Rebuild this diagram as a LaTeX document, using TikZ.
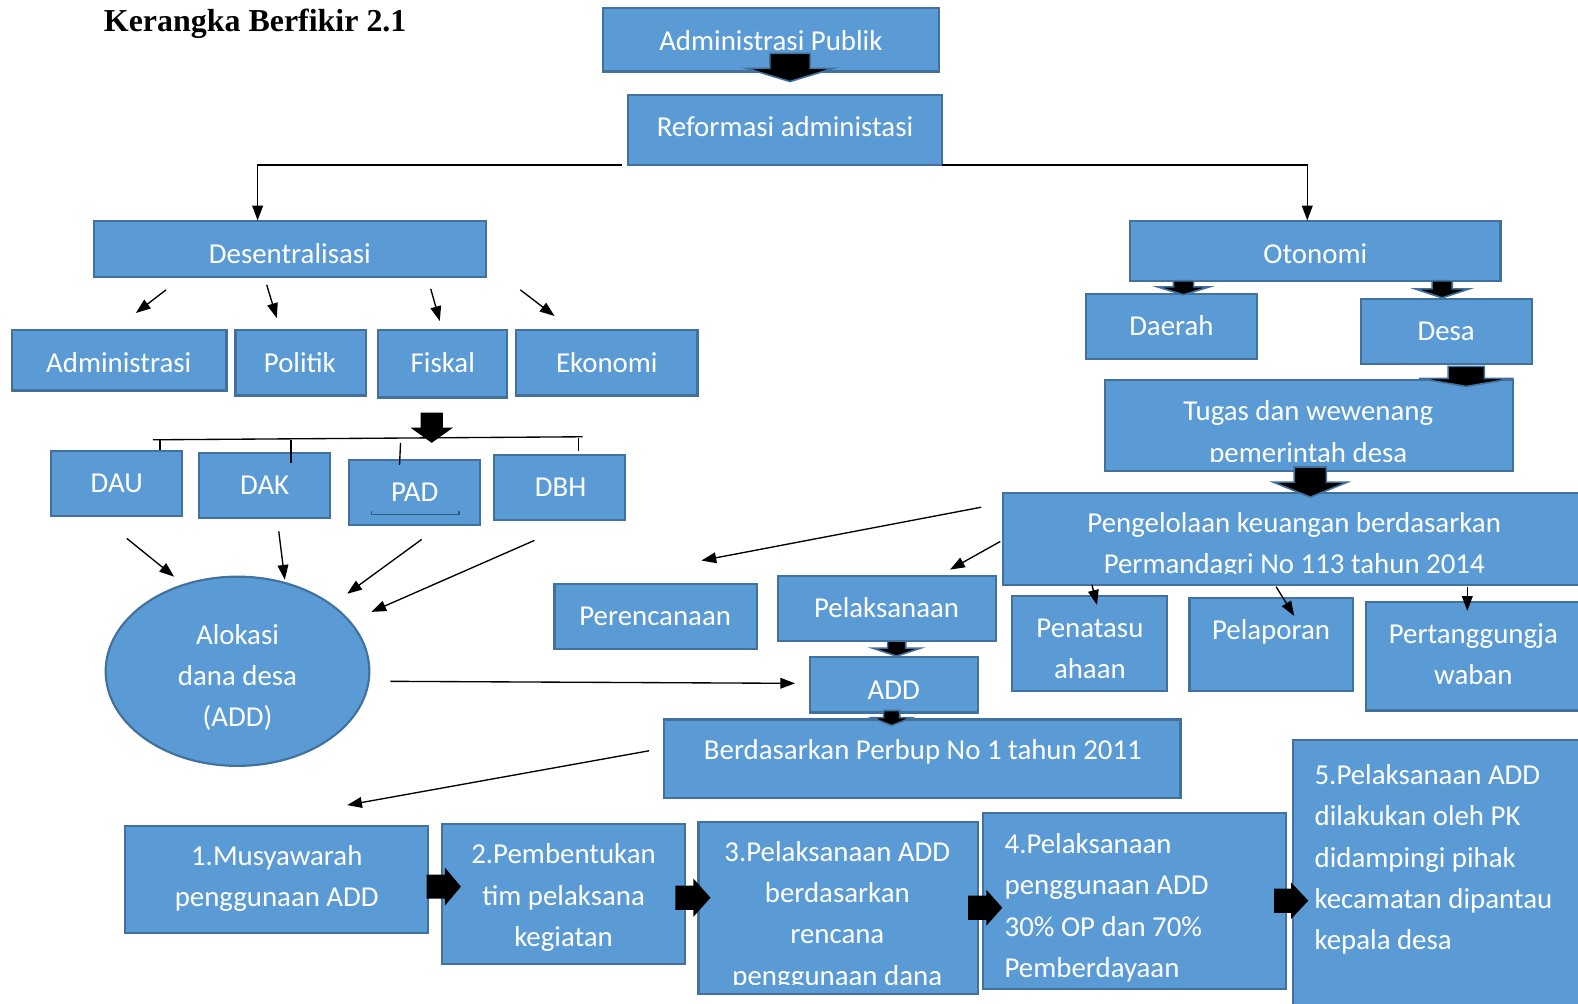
\documentclass[tikz,border=0pt]{standalone}
\usepackage{fontspec}
\setmainfont{Carlito}
\newfontfamily\titlefont{Liberation Serif}
\usetikzlibrary{arrows.meta,fit,shapes.geometric}
\definecolor{bfill}{RGB}{91,155,213}
\definecolor{bline}{RGB}{65,113,156}
\tikzset{
 box/.style={draw=bline, fill=bfill, line width=1.6pt, inner sep=0pt},
 txt/.style={text=white, font=\fontsize{21.5}{30.75}\selectfont, align=center, inner sep=0pt, yshift=-1.5pt},
 txtl/.style={txt, align=left},
 thinarr/.style={draw=black, line width=1pt, -{Triangle[length=11pt,width=8pt]}},
 rule/.style={draw=black, line width=1pt},
 barrow/.style={fill=black, draw=bline, line width=1.2pt},
 barrowk/.style={fill=black, draw=none},
}
\newcommand\bdown[7]{%
 \filldraw[#1] ({#2-#6},#3) -- ({#2+#6},#3) -- ({#2+#6},#4) -- ({#2+#7},#4) -- (#2,#5) -- ({#2-#7},#4) -- ({#2-#6},#4) -- cycle;}
\newcommand\bright[7]{%
 \filldraw[#1] (#3,{#2-#6}) -- (#4,{#2-#6}) -- (#4,{#2-#7}) -- (#5,#2) -- (#4,{#2+#7}) -- (#4,{#2+#6}) -- (#3,{#2+#6}) -- cycle;}
\begin{document}
\begin{tikzpicture}[x=0.75pt,y=-0.75pt]
\path[use as bounding box, fill=white] (0,0) rectangle (1568,997);

\node[anchor=base west, inner sep=0pt, font=\titlefont\bfseries\fontsize{23.8}{28}\selectfont] (title) at (103,31.5) {Kerangka Berfikir 2.1};

% top
\node[box, fit={(599,8)(933,71)}] (ap) {};
\node[txt] (tap) at (766,38) {Administrasi Publik};
\node[box, fit={(624,94)(936,164)}] (ra) {};
\node[txt] (tra) at (780,124) {Reformasi administasi};
\bdown{barrow}{785}{53}{68}{81}{20}{43}

\node[box, fit={(93,220)(483,275)}] (des) {};
\node[txt] (tdes) at (288,250) {Desentralisasi};
\node[box, fit={(1123,220)(1491,279)}] (oto) {};
\node[txt] (toto) at (1307,250) {Otonomi};

\coordinate (raL) at (618,164);
\coordinate (desin) at (256,219);
\coordinate (raR) at (936,164);
\coordinate (otoin) at (1299,219);
\draw[thinarr] (raL) -| (desin);
\draw[thinarr] (raR) -| (otoin);

% second row left
\node[box, fit={(12,328)(225,388)}] (adm) {};
\node[txt] (tadm) at (118,358) {Administrasi};
\node[box, fit={(234,328)(364,393)}] (pol) {};
\node[txt] (tpol) at (298,358) {Politik};
\node[box, fit={(376,328)(504,395)}] (fis) {};
\node[txt] (tfis) at (440,358) {Fiskal};
\node[box, fit={(513,328)(693,393)}] (eko) {};
\node[txt] (teko) at (603,358) {Ekonomi};

\coordinate (d1s) at (165,288); \coordinate (d1e) at (135,311);
\coordinate (d2s) at (265,283); \coordinate (d2e) at (275,316);
\coordinate (d3s) at (428,287); \coordinate (d3e) at (437,319);
\coordinate (d4s) at (517,288); \coordinate (d4e) at (551,314);
\draw[thinarr] (d1s) -- (d1e);
\draw[thinarr] (d2s) -- (d2e);
\draw[thinarr] (d3s) -- (d3e);
\draw[thinarr] (d4s) -- (d4e);

\bdown{barrowk}{429}{410}{425}{440}{11}{21}
\coordinate (hl) at (152,437); \coordinate (hr) at (579,434);
\draw[rule] (hl) -- (hr);

% third row
\node[box, fit={(51,448)(181,513)}] (dau) {};
\node[txt] (tdau) at (116,478) {DAU};
\node[box, fit={(198,450)(328,515)}] (dak) {};
\node[txt] (tdak) at (263,480) {DAK};
\node[box, fit={(347,457)(477,522)}] (pad) {};
\node[txt] (tpad) at (412,487) {PAD};
\node[box, fit={(491,452)(621,517)}] (dbh) {};
\node[txt] (tdbh) at (557,482) {DBH};
\draw[draw=bline!80!black, line width=1pt] (369,508) -- (369,511) -- (456,511) -- (456,508);

\draw[rule] (159,437) -- (dau.north -| 159,0);
\draw[rule] (289,437) -- (289,460);
\draw[rule] (398,440) -- (397,462);
\draw[rule] (575,435) -- (575,448);

% ellipse
\node[box, ellipse, minimum width=196.5pt, minimum height=141pt] (ell) at (236,667) {};
\node[txt] (tell) at (236,671) {Alokasi\\dana desa\\(ADD)};

\coordinate (e1s) at (126,535); \coordinate (e1e) at (173,573);
\coordinate (e2s) at (277,528); \coordinate (e2e) at (283,576);
\coordinate (e3s) at (419,536); \coordinate (e3e) at (345,590);
\coordinate (e4s) at (531,537); \coordinate (e4e) at (369,608);
\draw[thinarr] (e1s) -- (e1e);
\draw[thinarr] (e2s) -- (e2e);
\draw[thinarr] (e3s) -- (e3e);
\draw[thinarr] (e4s) -- (e4e);

% right side
\node[box, fit={(1079,292)(1249,357)}] (dae) {};
\node[txt] (tdae) at (1164,322) {Daerah};
\node[box, fit={(1352,297)(1522,362)}] (desa) {};
\node[txt] (tdesa) at (1437,327) {Desa};
\bdown{barrow}{1176}{279}{285}{293}{10}{26}
\bdown{barrow}{1433}{279}{287}{296}{10}{27}

\node[box, fit={(1098,378)(1503,468)}] (tug) {};
\begin{scope}
\clip (1098,378) rectangle (1503,459);
\node[txt] (ttug) at (1300,429) {Tugas dan wewenang\\pemerintah desa};
\end{scope}
\bdown{barrow}{1457}{364}{376}{384}{18}{47}

\node[box, fit={(997,490)(1580,581)}] (peng) {};
\begin{scope}
\clip (997,490) rectangle (1580,570);
\node[txt] (tpeng) at (1286,540) {Pengelolaan keuangan berdasarkan\\Permandagri No 113 tahun 2014};
\end{scope}
\bdown{barrow}{1302}{464}{479}{494}{16}{37}

\node[box, fit={(551,580)(752,645)}] (per) {};
\node[txt] (tper) at (651,610) {Perencanaan};
\node[box, fit={(773,572)(990,637)}] (pel) {};
\node[txt] (tpel) at (881,602) {Pelaksanaan};
\node[box, fit={(805,653)(972,708)}] (addb) {};
\node[txt] (tadd) at (888,684) {ADD};
\node[box, fit={(660,715)(1173,793)}] (berd) {};
\node[txt] (tberd) at (917,745) {Berdasarkan Perbup No 1 tahun 2011};
\bdown{barrow}{891}{637}{644}{652}{9}{24}
\bdown{barrow}{886}{706}{713}{721}{8}{20}

\node[box, fit={(1006,592)(1160,687)}] (pena) {};
\node[txt] (tpena) at (1083,643) {Penatasu\\ahaan};
\node[box, fit={(1182,594)(1344,687)}] (pela) {};
\node[txt] (tpela) at (1263,626) {Pelaporan};
\node[box, fit={(1357,598)(1580,706)}] (pert) {};
\node[txt] (tpert) at (1464,648) {Pertanggungja\\waban};

\coordinate (p1s) at (975,504); \coordinate (p1e) at (697,557);
\coordinate (p2s) at (994,538); \coordinate (p2e) at (944,566);
\coordinate (p3s) at (1085,581); \coordinate (p3e) at (1090,601);
\coordinate (p4s) at (1268,583); \coordinate (p4e) at (1286,612);
\coordinate (p5s) at (1458,583); \coordinate (p5e) at (1458,607);
\draw[thinarr] (p1s) -- (p1e);
\draw[thinarr] (p2s) -- (p2e);
\draw[thinarr] (p3s) -- (p3e);
\draw[thinarr] (p4s) -- (p4e);
\draw[thinarr] (p5s) -- (p5e);

\coordinate (es) at (388,677); \coordinate (ee) at (790,679);
\draw[thinarr] (es) -- (ee);
\coordinate (bs) at (645,746); \coordinate (be) at (345,800);
\draw[thinarr] (bs) -- (be);

% bottom row
\node[box, fit={(124,821)(425,927)}] (b1) {};
\node[txt] (tb1) at (275,871) {1.Musyawarah\\penggunaan ADD};
\node[box, fit={(439,819)(681,958)}] (b2) {};
\node[txt] (tb2) at (560,890) {2.Pembentukan\\tim pelaksana\\kegiatan};
\node[box, fit={(694,817)(972,988)}] (b3) {};
\begin{scope}
\clip (694,817) rectangle (972,978);
\node[txt] (tb3) at (832,908) {3.Pelaksanaan ADD\\berdasarkan\\rencana\\penggunaan dana};
\end{scope}
\node[box, fit={(977,808)(1278,983)}] (b4) {};
\node[txtl, anchor=west] (tb4) at (998,900) {4.Pelaksanaan\\penggunaan ADD\\30\% OP dan 70\%\\Pemberdayaan};
\node[box, fit={(1285,735)(1580,1010)}] (b5) {};
\node[txtl, anchor=west] (tb5) at (1306,852) {5.Pelaksanaan ADD\\dilakukan oleh PK\\didampingi pihak\\kecamatan dipantau\\kepala desa};

\bright{barrowk}{881}{424}{442}{458}{12}{19}
\bright{barrowk}{892}{671}{689}{706}{12}{19}
\bright{barrowk}{902}{962}{980}{996}{12}{18}
\bright{barrowk}{895}{1266}{1283}{1300}{12}{18}
\end{tikzpicture}
\end{document}
